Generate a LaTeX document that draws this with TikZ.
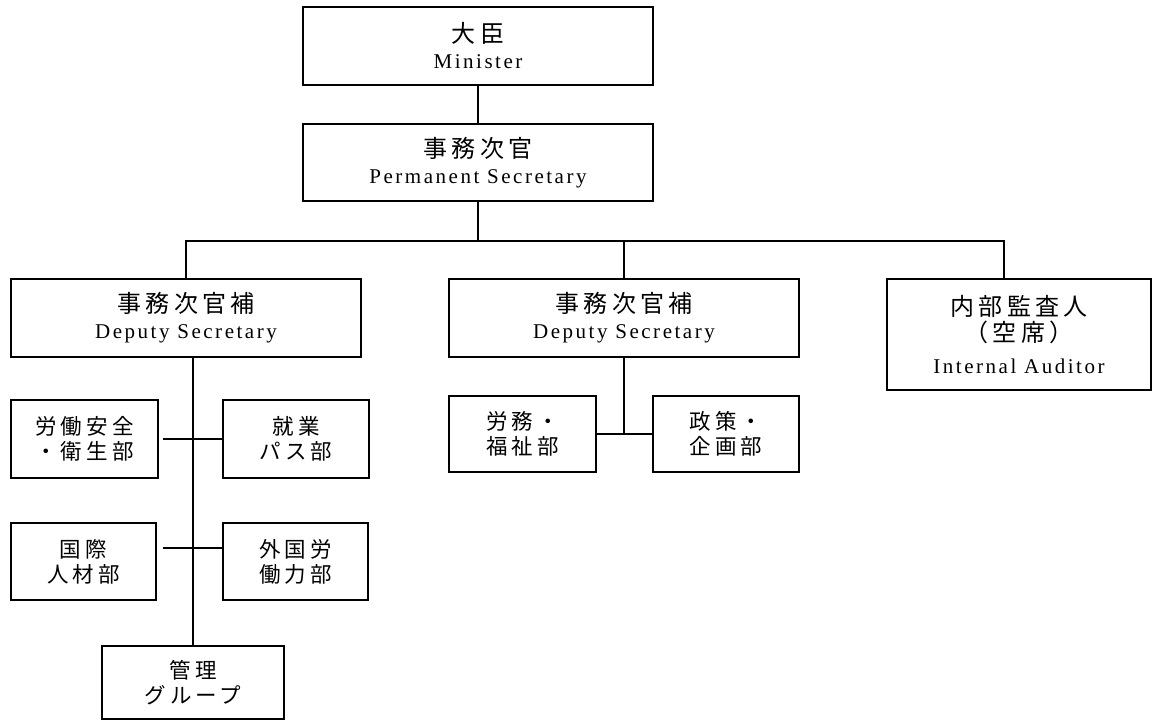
\documentclass[tikz,border=0pt]{standalone}
\usepackage{fontspec}
\setmainfont{Liberation Serif}[LetterSpace=12]
\newfontfamily\jpfont{Noto Sans CJK JP}[LetterSpace=17]
\newfontfamily\jpdept{Noto Sans CJK JP}[LetterSpace=19]
\newcommand\Jt[1]{{\jpfont\fontsize{24}{26}\selectfont #1}}
\newcommand\Jd[1]{{\jpdept\fontsize{21.5}{25}\selectfont #1}}
\tikzset{
  box/.style={draw, line width=2pt, inner sep=0pt, align=center,
    font=\fontsize{21}{26}\selectfont},
  dept/.style={box, font=\fontsize{21}{25}\selectfont},
  link/.style={line width=2pt}
}
\begin{document}
\begin{tikzpicture}[x=1pt,y=-1pt]
\useasboundingbox (0,0) rectangle (1153,720);
% top
\node[box, minimum width=350pt, minimum height=78pt] (min) at (478,46) {\Jt{大臣}\\Minister};
\node[box, minimum width=350pt, minimum height=77pt] (ps) at (478,162.5) {\Jt{事務次官}\\Permanent Secretary};
% second level
\node[box, minimum width=350pt, minimum height=78pt] (dl) at (186,318) {\Jt{事務次官補}\\Deputy Secretary};
\node[box, minimum width=350pt, minimum height=78pt] (dm) at (624,318) {\Jt{事務次官補}\\Deputy Secretary};
\node[box, minimum width=264pt, minimum height=111pt] (ia) at (1019,334.5) {\Jt{内部監査人}\\\Jt{（空席）}\\[6pt]Internal Auditor};
% left departments
\node[dept, minimum width=147pt, minimum height=78pt] (ls) at (84.5,439) {\Jd{労働安全}\\\Jd{・衛生部}};
\node[dept, minimum width=146pt, minimum height=78pt] (sp) at (296,439) {\Jd{就業}\\\Jd{パス部}};
\node[dept, minimum width=145pt, minimum height=77pt] (ih) at (83.5,561.5) {\Jd{国際}\\\Jd{人材部}};
\node[dept, minimum width=145pt, minimum height=77pt] (fl) at (295.5,561.5) {\Jd{外国労}\\\Jd{働力部}};
\node[dept, minimum width=182pt, minimum height=73pt] (mg) at (193,682.5) {\Jd{管理}\\\Jd{グループ}};
% middle departments
\node[dept, minimum width=147pt, minimum height=76pt] (lw) at (522.5,434) {\Jd{労務・}\\\Jd{福祉部}};
\node[dept, minimum width=146pt, minimum height=76pt] (pp) at (726,434) {\Jd{政策・}\\\Jd{企画部}};
% connectors
\coordinate (bar) at (478,241);
\coordinate (iatop) at (1004,279);
\coordinate (row2) at (0,548);
\draw[link] (min) -- (ps);
\draw[link] (ps.south) -- (bar);
\draw[link] (dl.north) |- (iatop |- bar) -- (iatop);
\draw[link] (dm.north) -- (dm.north |- bar);
\draw[link] (mg.north |- dl.south) -- (mg.north);
\draw[link] ([xshift=4pt]ls.east) -- (sp.west);
\draw[link] ([xshift=6pt]ih.east |- row2) -- (fl.west |- row2);
\draw[link] (dm.south) -- (dm.south |- lw.east);
\draw[link] (lw.east) -- (pp.west);
\end{tikzpicture}
\end{document}
